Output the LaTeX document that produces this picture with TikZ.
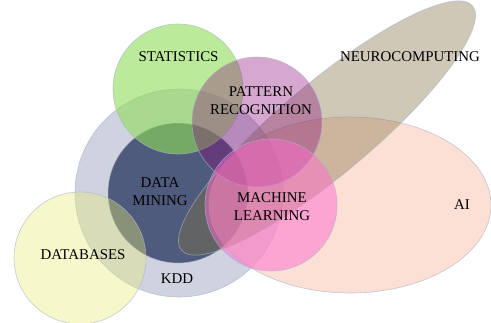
\documentclass[tikz,border=0pt]{standalone}
\usepackage{fontspec}
\setmainfont{Liberation Serif}
\begin{document}
\begin{tikzpicture}[x=1pt,y=-1pt,
  setedge/.style={draw=edgec,line width=0.6pt,draw opacity=0.7},
  kddset/.style={setedge,fill=kddc},
  dmset/.style={setedge,fill=dmc},
  dbset/.style={setedge,fill=dbc,fill opacity=0.38},
  statset/.style={setedge,fill=statc,fill opacity=0.6},
  aiset/.style={setedge,fill=aic,fill opacity=0.5},
  neuroset/.style={setedge,fill=neuroc,fill opacity=0.38},
  prset/.style={setedge,fill=prc,fill opacity=0.35},
  mlset/.style={setedge,fill=mlc,fill opacity=0.5},
  lbl/.style={font=\fontsize{14.9}{18}\selectfont,text=black,align=center,inner sep=0pt}]
\definecolor{edgec}{RGB}{170,180,202}
\definecolor{kddc}{RGB}{207,211,224}
\definecolor{dmc}{RGB}{79,91,124}
\definecolor{dbc}{RGB}{232,235,118}
\definecolor{statc}{RGB}{142,222,88}
\definecolor{aic}{RGB}{251,193,173}
\definecolor{neuroc}{RGB}{129,113,66}
\definecolor{prc}{RGB}{138,6,121}
\definecolor{mlc}{RGB}{255,108,208}
\useasboundingbox (0,0) rectangle (491,322);
\fill[white] (0,0) rectangle (491,322);
% sets
\path[kddset] (179,193) circle[radius=104pt];
\path[dmset] (178,193) circle[radius=70pt];
\path[dbset] (80,258) circle[radius=66pt];
\path[statset] (178,89) circle[radius=65pt];
\path[aiset] (350,205) ellipse[x radius=141pt,y radius=88pt];
\path[neuroset,rotate around={40:(327,128)}] (327,128) ellipse[x radius=190pt,y radius=46pt];
\path[prset] (257,122) circle[radius=65pt];
\path[mlset] (271,205) circle[radius=66pt];
% labels
\node[lbl] (stat) at (178.5,57) {STATISTICS};
\node[lbl] (pr) at (261,101) {PATTERN\\RECOGNITION};
\node[lbl] (neuro) at (410,57) {NEUROCOMPUTING};
\node[lbl] (dm) at (160,192) {DATA\\MINING};
\node[lbl] (ml) at (272,207) {MACHINE\\LEARNING};
\node[lbl] (ai) at (462,205) {AI};
\node[lbl] (db) at (83,255) {DATABASES};
\node[lbl] (kdd) at (177,279) {KDD};
\end{tikzpicture}
\end{document}
